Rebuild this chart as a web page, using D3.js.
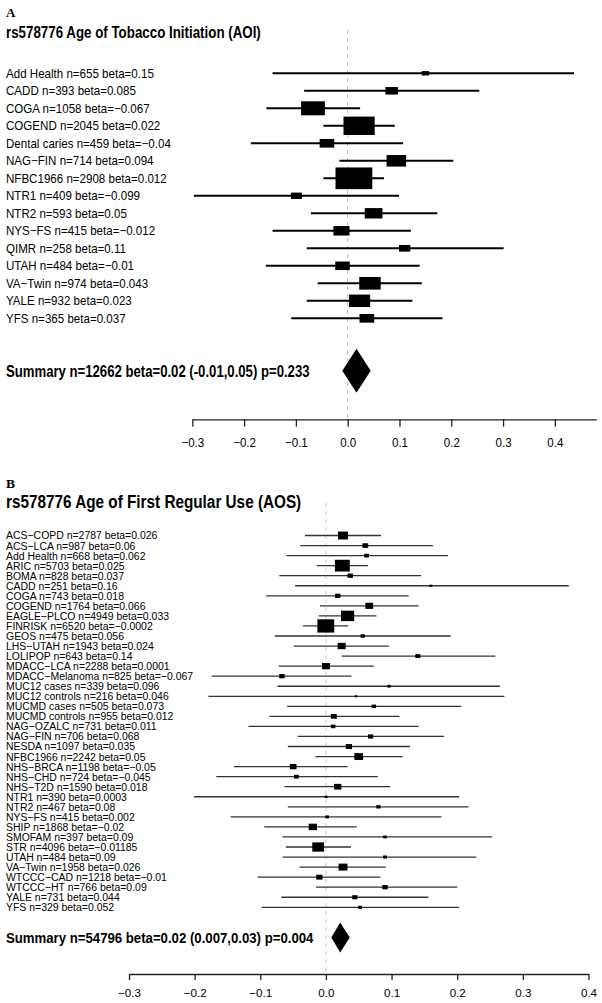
<!DOCTYPE html>
<html>
<head>
<meta charset="utf-8">
<script src="https://cdn.jsdelivr.net/npm/d3@7"></script>
<style>
  html, body { margin: 0; padding: 0; background: #fff; }
  svg { display: block; }
  text { font-family: "Liberation Sans", Arial, sans-serif; fill: #000; }
</style>
</head>
<body>
<svg id="chart" width="602" height="1003"></svg>
<script>
// ---------------- Panel A data ----------------
const titleA = "rs578776 Age of Tobacco Initiation (AOI)";
const studiesA = ["Add Health","CADD","COGA","COGEND","Dental caries","NAG-FIN","NFBC1966","NTR1","NTR2","NYS-FS","QIMR","UTAH","VA-Twin","YALE","YFS"];
const nA    = [655, 393, 1058, 2045, 459, 714, 2908, 409, 593, 415, 258, 484, 974, 932, 365];
const betaA = [0.15, 0.085, -0.067, 0.022, -0.04, 0.094, 0.012, -0.099, 0.05, -0.012, 0.11, -0.01, 0.043, 0.023, 0.037];
const loA   = [-0.145, -0.084, -0.157, -0.047, -0.187, -0.016, -0.047, -0.297, -0.071, -0.145, -0.079, -0.158, -0.058, -0.079, -0.109];
const hiA   = [0.437, 0.254, 0.024, 0.091, 0.107, 0.204, 0.070, 0.099, 0.173, 0.122, 0.301, 0.139, 0.143, 0.125, 0.183];
const summaryTextA = "Summary n=12662 beta=0.02 (-0.01,0.05) p=0.233";
const summaryA = [-0.0104, 0.017, 0.0444];   // lo, estimate, hi
const ticksA = [-0.3, -0.2, -0.1, 0.0, 0.1, 0.2, 0.3, 0.4];

// ---------------- Panel B data ----------------
const titleB = "rs578776 Age of First Regular Use (AOS)";
const studiesB = ["ACS-COPD","ACS-LCA","Add Health","ARIC","BOMA","CADD","COGA","COGEND","EAGLE-PLCO","FINRISK","GEOS","LHS-UTAH","LOLIPOP","MDACC-LCA","MDACC-Melanoma","MUC12 cases","MUC12 controls","MUCMD cases","MUCMD controls","NAG-OZALC","NAG-FIN","NESDA","NFBC1966","NHS-BRCA","NHS-CHD","NHS-T2D","NTR1","NTR2","NYS-FS","SHIP","SMOFAM","STR","UTAH","VA-Twin","WTCCC-CAD","WTCCC-HT","YALE","YFS"];
const nB    = [2787, 987, 668, 5703, 828, 251, 743, 1764, 4949, 6520, 475, 1943, 643, 2288, 825, 339, 216, 505, 955, 731, 706, 1097, 2242, 1198, 724, 1590, 390, 467, 415, 1868, 397, 4096, 484, 1958, 1218, 766, 731, 329];
const betaB = [0.026, 0.06, 0.062, 0.025, 0.037, 0.16, 0.018, 0.066, 0.033, -0.0002, 0.056, 0.024, 0.14, 0.0001, -0.067, 0.096, 0.046, 0.073, 0.012, 0.011, 0.068, 0.035, 0.05, -0.05, -0.045, 0.018, 0.0003, 0.08, 0.002, -0.02, 0.09, -0.01185, 0.09, 0.026, -0.01, 0.09, 0.044, 0.052];
const loB   = [-0.032, -0.039, -0.060, -0.014, -0.071, -0.047, -0.091, -0.009, -0.011, -0.035, -0.078, -0.049, 0.024, -0.072, -0.174, -0.074, -0.179, -0.059, -0.086, -0.118, -0.043, -0.058, -0.016, -0.140, -0.167, -0.063, -0.201, -0.058, -0.145, -0.094, -0.066, -0.061, -0.066, -0.040, -0.104, -0.015, -0.068, -0.098];
const hiB   = [0.084, 0.163, 0.186, 0.064, 0.145, 0.370, 0.126, 0.141, 0.077, 0.034, 0.190, 0.096, 0.258, 0.073, 0.039, 0.265, 0.272, 0.206, 0.112, 0.141, 0.180, 0.128, 0.117, 0.033, 0.079, 0.098, 0.203, 0.217, 0.176, 0.047, 0.253, 0.038, 0.229, 0.091, 0.083, 0.200, 0.156, 0.203];
const summaryTextB = "Summary n=54796 beta=0.02 (0.007,0.03) p=0.004";
const summaryB = [0.0082, 0.0217, 0.0363];
const ticksB = [-0.3, -0.2, -0.1, 0.0, 0.1, 0.2, 0.3, 0.4];

const svg = d3.select("#chart");
svg.append("rect").attr("width", 602).attr("height", 1003).attr("fill", "#fff");

const minus = s => s.replace(/-/g, "\u2212");

function panel(cfg) {
  const g = svg.append("g");
  const n = cfg.names.length;
  const x = d3.scaleLinear().domain(cfg.xDomain).range(cfg.xRange);
  const y = d3.scaleLinear().domain([0, n - 1]).range(cfg.yRange);
  const ySum = y(n - 1 + 3);
  const inv = cfg.lo.map((l, i) => 1 / (cfg.hi[i] - l));
  const hScale = d3.scaleLinear().domain([0, d3.max(inv)]).range([0, cfg.maxBoxH]);

  // panel letter
  g.append("text").attr("x", 6).attr("y", cfg.letterY)
    .style("font-family", "'Liberation Serif', 'Times New Roman', serif")
    .style("font-weight", "bold").style("font-size", cfg.letterSize + "px")
    .text(cfg.letter);

  // title
  g.append("text").attr("transform", `translate(6,${cfg.titleY}) scale(${cfg.titleSX},1)`)
    .style("font-weight", "bold").style("font-size", cfg.titleSize + "px")
    .text(cfg.title);

  // zero reference line
  g.append("line").attr("x1", x(0)).attr("x2", x(0))
    .attr("y1", cfg.zeroTop).attr("y2", cfg.axisY)
    .attr("stroke", cfg.zeroColor).attr("stroke-width", 1)
    .attr("stroke-dasharray", "4,4");

  // labels
  g.selectAll("text.lab").data(cfg.names).join("text").attr("class", "lab")
    .attr("transform", (d, i) => `translate(6,${y(i) + cfg.labSize * 0.36}) scale(${cfg.labSX},1)`)
    .style("font-size", cfg.labSize + "px")
    .text((d, i) => minus(`${d} n=${cfg.n[i]} beta=${cfg.beta[i]}`));

  // CI lines
  g.selectAll("line.ci").data(cfg.names).join("line").attr("class", "ci")
    .attr("x1", (d, i) => x(cfg.lo[i])).attr("x2", (d, i) => x(cfg.hi[i]))
    .attr("y1", (d, i) => y(i)).attr("y2", (d, i) => y(i))
    .attr("stroke", cfg.ciColor).attr("stroke-width", cfg.ciWidth);

  // boxes
  g.selectAll("rect.box").data(cfg.names).join("rect").attr("class", "box")
    .each(function(d, i) {
      const h = hScale(inv[i]);
      const w = h / cfg.boxAspect;
      d3.select(this).attr("x", x(cfg.beta[i]) - w / 2).attr("y", y(i) - h / 2)
        .attr("width", w).attr("height", h).attr("fill", "#000");
    });

  // summary
  g.append("text").attr("transform", `translate(6,${ySum + cfg.sumSize * 0.36}) scale(${cfg.sumSX},1)`)
    .style("font-weight", "bold").style("font-size", cfg.sumSize + "px")
    .text(cfg.summaryText);
  const [sl, se, sh] = cfg.summary;
  g.append("path")
    .attr("d", d3.line()([[x(sl), ySum], [x(se), ySum - cfg.diamondH], [x(sh), ySum], [x(se), ySum + cfg.diamondH]]) + "Z")
    .attr("fill", "#000");

  // axis
  const axis = d3.axisBottom(x).tickValues(cfg.ticks).tickSize(cfg.tickLen).tickSizeOuter(0)
    .tickFormat(d3.format(".1f"));
  const ag = g.append("g").attr("transform", `translate(0,${cfg.axisY})`).call(axis);
  ag.select(".domain").attr("stroke", "#222").attr("stroke-width", 1.3);
  ag.selectAll(".tick line").attr("stroke", "#222").attr("stroke-width", 1.3);
  ag.selectAll(".tick text")
    .attr("y", 0).attr("dy", 0)
    .attr("transform", `translate(0,${cfg.tickLabY}) scale(${cfg.tickSX},1)`)
    .style("font-family", "'Liberation Sans', Arial, sans-serif")
    .style("font-size", cfg.tickSize + "px").attr("fill", "#000");
}

panel({
  letter: "A", letterY: 16.7, letterSize: 13,
  title: titleA, titleY: 37.5, titleSize: 17, titleSX: 0.785,
  names: studiesA, n: nA, beta: betaA, lo: loA, hi: hiA,
  summaryText: summaryTextA, summary: summaryA, ticks: ticksA,
  xDomain: [-0.3, 0.48], xRange: [192.3, 596.3],
  yRange: [73.3, 318.3],
  labSize: 12.5, labSX: 0.926,
  sumSize: 16.3, sumSX: 0.807,
  ciColor: "#000", ciWidth: 2,
  maxBoxH: 21.7, boxAspect: 0.59, diamondH: 22,
  zeroTop: 30, zeroColor: "#b8b8b8",
  axisY: 419.3, tickLen: 7.4, tickLabY: 27.4, tickSize: 12.5, tickSX: 0.926
});

panel({
  letter: "B", letterY: 488.3, letterSize: 13.5,
  title: titleB, titleY: 508.3, titleSize: 18.5, titleSX: 0.827,
  names: studiesB, n: nB, beta: betaB, lo: loB, hi: hiB,
  summaryText: summaryTextB, summary: summaryB, ticks: ticksB,
  xDomain: [-0.3, 0.4], xRange: [129, 588.5],
  yRange: [535.5, 907.3],
  labSize: 11, labSX: 0.952,
  sumSize: 15, sumSX: 0.88,
  ciColor: "#333", ciWidth: 1.3,
  maxBoxH: 13.3, boxAspect: 0.79, diamondH: 15,
  zeroTop: 503, zeroColor: "#c8c8c8",
  axisY: 974, tickLen: 6, tickLabY: 23, tickSize: 11.6, tickSX: 1.0
});
</script>
</body>
</html>
